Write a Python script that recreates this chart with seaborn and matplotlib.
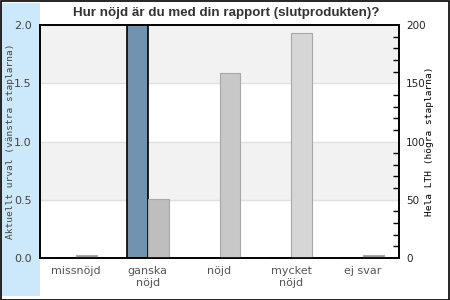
import matplotlib
matplotlib.use("Agg")
import matplotlib.pyplot as plt
import seaborn as sns
import pandas as pd
import numpy as np
from matplotlib.patches import Rectangle
from matplotlib.ticker import MultipleLocator

categories = ["missnöjd", "ganska\nnöjd", "nöjd", "mycket\nnöjd", "ej svar"]
left_values = [0, 2, 0, 0, 0]          # Aktuellt urval
right_values = [3, 51, 159, 193, 3]    # Hela LTH
right_colors = ["#999999", "#bebebe", "#c8c8c8", "#d6d6d6", "#999999"]
left_label = "Aktuellt urval (vänstra staplarna)"
right_label = "Hela LTH (högra staplarna)"
title = "Hur nöjd är du med din rapport (slutprodukten)?"

sns.set_theme(style="white")
plt.rcParams["font.family"] = ["DejaVu Sans"]

fig = plt.figure(figsize=(4.5, 3), dpi=100)
fig.patch.set_facecolor("white")
# blue strip on the left
fig.add_artist(Rectangle((1/450, 4/300), 39/450, 293/300, transform=fig.transFigure,
                         facecolor="#cce8fb", edgecolor="none", zorder=0))
# outer frame
fig.add_artist(Rectangle((0.5/450, 0.5/300), 448.5/450, 298.5/300, transform=fig.transFigure,
                         facecolor="none", edgecolor="black", linewidth=1.2, zorder=5))

ax = fig.add_axes([40/450, 1 - 258/300, 359/450, 233/300])
ax2 = ax.twinx()

hue_order = ["left", "right"]
df_left = pd.DataFrame({"cat": categories, "val": left_values, "series": "left"})
df_right = pd.DataFrame({"cat": categories, "val": right_values, "series": "right"})

sns.barplot(data=df_left, x="cat", y="val", hue="series", hue_order=hue_order,
            order=categories, palette={"left": "#7193b0", "right": "#bbbbbb"},
            width=0.58, dodge=True, ax=ax, legend=False, saturation=1,
            edgecolor="black", linewidth=1.2, errorbar=None)
sns.barplot(data=df_right, x="cat", y="val", hue="series", hue_order=hue_order,
            order=categories, palette={"left": "#7193b0", "right": "#bbbbbb"},
            width=0.58, dodge=True, ax=ax2, legend=False, saturation=1,
            edgecolor="#aaaaaa", linewidth=0.8, errorbar=None)
for p, c in zip(ax2.patches, right_colors):
    p.set_facecolor(c)
    p.set_edgecolor("#a8a8a8")

ax.set_ylim(0, 2.0)
ax2.set_ylim(0, 200)
ax.set_xlim(-0.5, 4.5)

# background bands and grid
ax.set_facecolor("white")
for lo, hi in [(0.5, 1.0), (1.5, 2.0)]:
    ax.axhspan(lo, hi, color="#f2f2f2", zorder=0, linewidth=0)
for y in [0.5, 1.0, 1.5]:
    ax.axhline(y, color="#e0e0e0", linewidth=1, zorder=0.5)
ax2.patch.set_visible(False)

ax.set_yticks([0, 0.5, 1.0, 1.5, 2.0])
ax.set_yticklabels(["0.0", "0.5", "1.0", "1.5", "2.0"])
ax2.set_yticks([0, 50, 100, 150, 200])
ax2.yaxis.set_minor_locator(MultipleLocator(10))
ax2.tick_params(axis="y", which="minor", direction="in", length=4, width=1, color="black", right=True)
ax2.tick_params(axis="y", which="major", length=0, labelsize=7.5, labelcolor="#222222", pad=5)
ax.tick_params(axis="y", length=0, labelsize=8, labelcolor="#444444", pad=6)
ax.tick_params(axis="x", length=0, labelsize=8, labelcolor="#555555", pad=6)
ax2.tick_params(axis="x", length=0)

ax.set_xlabel("")
ax2.set_xlabel("")
ax.set_ylabel(left_label, family="DejaVu Sans Mono", fontsize=6.8, color="#444444")
ax2.set_ylabel(right_label, family="DejaVu Sans Mono", fontsize=6.8, color="black")
ax.yaxis.set_label_coords((15.5 - 40) / 359, 0.5)
ax2.yaxis.set_label_coords((425 - 40) / 359, 0.5)

for a in (ax, ax2):
    for s in a.spines.values():
        s.set_color("black")
        s.set_linewidth(1.2)

fig.text(0.503, 0.958, title, ha="center", va="center", fontsize=9.6,
         fontweight="bold", color="#333333", family="Liberation Sans")

fig.savefig("out.png", dpi=100)
